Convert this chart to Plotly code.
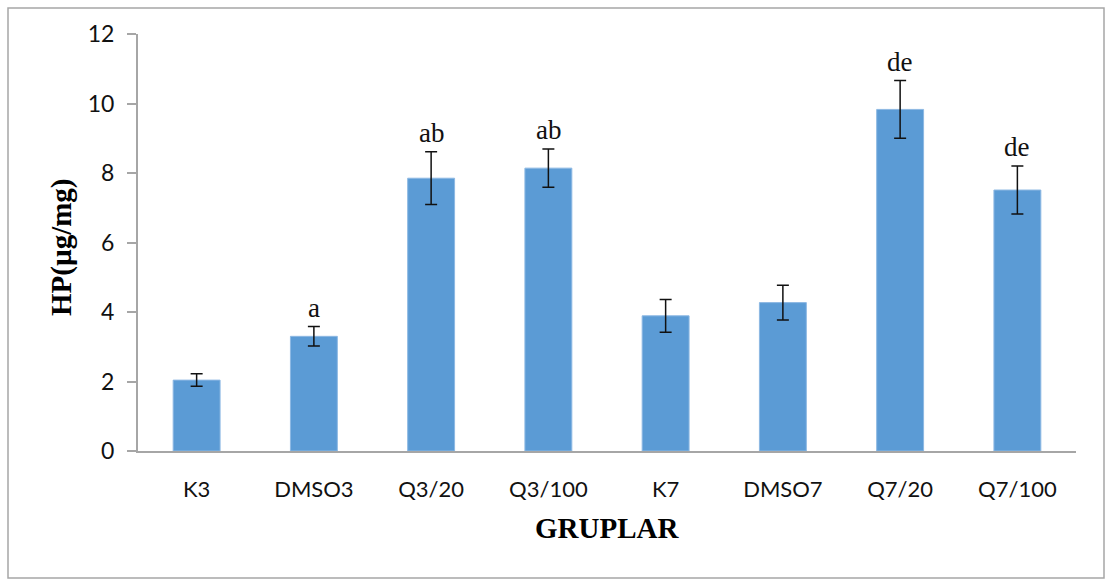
import plotly.graph_objects as go

groups = ["K3", "DMSO3", "Q3/20", "Q3/100", "K7", "DMSO7", "Q7/20", "Q7/100"]
hp_means = [2.04, 3.30, 7.85, 8.14, 3.89, 4.27, 9.83, 7.51]
hp_errors = [0.18, 0.28, 0.76, 0.55, 0.47, 0.50, 0.83, 0.69]
sig_letters = ["", "a", "ab", "ab", "", "", "de", "de"]
y_ticks = [0, 2, 4, 6, 8, 10, 12]

W, H = 1105, 579
L, R, T, B = 138, 29, 34, 128
pw, ph = W - L - R, H - T - B

def px_x(x):
    return (x - L) / pw

def px_y(y):
    return (H - B - y) / ph

fig = go.Figure()
fig.add_trace(go.Bar(
    x=groups, y=hp_means,
    marker=dict(color="#5B9BD5", line=dict(color="#8DB8E3", width=1)),
    error_y=dict(type="data", array=hp_errors, visible=True,
                 color="#111111", thickness=1.5, width=6),
    showlegend=False,
))

for g, m, e, s in zip(groups, hp_means, hp_errors, sig_letters):
    if s:
        fig.add_annotation(x=g, y=m + e, text=s, showarrow=False,
                           yanchor="bottom", yshift=2,
                           font=dict(family="Liberation Serif, Times New Roman, serif",
                                     size=27, color="#111111"))

serif_bold = "Liberation Serif, Times New Roman, serif"
fig.add_annotation(xref="paper", yref="paper", x=px_x(62), y=px_y(247),
                   text="<b>HP(µg/mg)</b>", textangle=-90, showarrow=False,
                   xanchor="center", yanchor="middle",
                   font=dict(family=serif_bold, size=29, color="#000000"))
fig.add_annotation(xref="paper", yref="paper", x=px_x(607), y=px_y(528),
                   text="<b>GRUPLAR</b>", showarrow=False,
                   xanchor="center", yanchor="middle",
                   font=dict(family=serif_bold, size=29, color="#000000"))

fig.add_shape(type="rect", xref="paper", yref="paper",
              x0=px_x(8), x1=px_x(1104), y0=px_y(578), y1=px_y(8),
              line=dict(color="#A6A6A6", width=1.5), fillcolor="rgba(0,0,0,0)",
              layer="below")

fig.update_layout(
    width=W, height=H,
    margin=dict(l=L, r=R, t=T, b=B, pad=0),
    paper_bgcolor="white", plot_bgcolor="white",
    bargap=0.6,
    font=dict(family="Lato, Open Sans, sans-serif", size=22, color="#111111"),
    xaxis=dict(showline=True, linecolor="#A6A6A6", linewidth=2,
               ticks="", showgrid=False, zeroline=False,
               tickfont=dict(size=22), ticklabelstandoff=18),
    yaxis=dict(range=[0, 12], tickvals=y_ticks, showline=True,
               linecolor="#A6A6A6", linewidth=2, ticks="outside",
               ticklen=9, tickcolor="#A6A6A6", tickwidth=1.5,
               showgrid=False, zeroline=False,
               tickfont=dict(size=23), ticklabelstandoff=8),
)

fig.write_html("out.html")
